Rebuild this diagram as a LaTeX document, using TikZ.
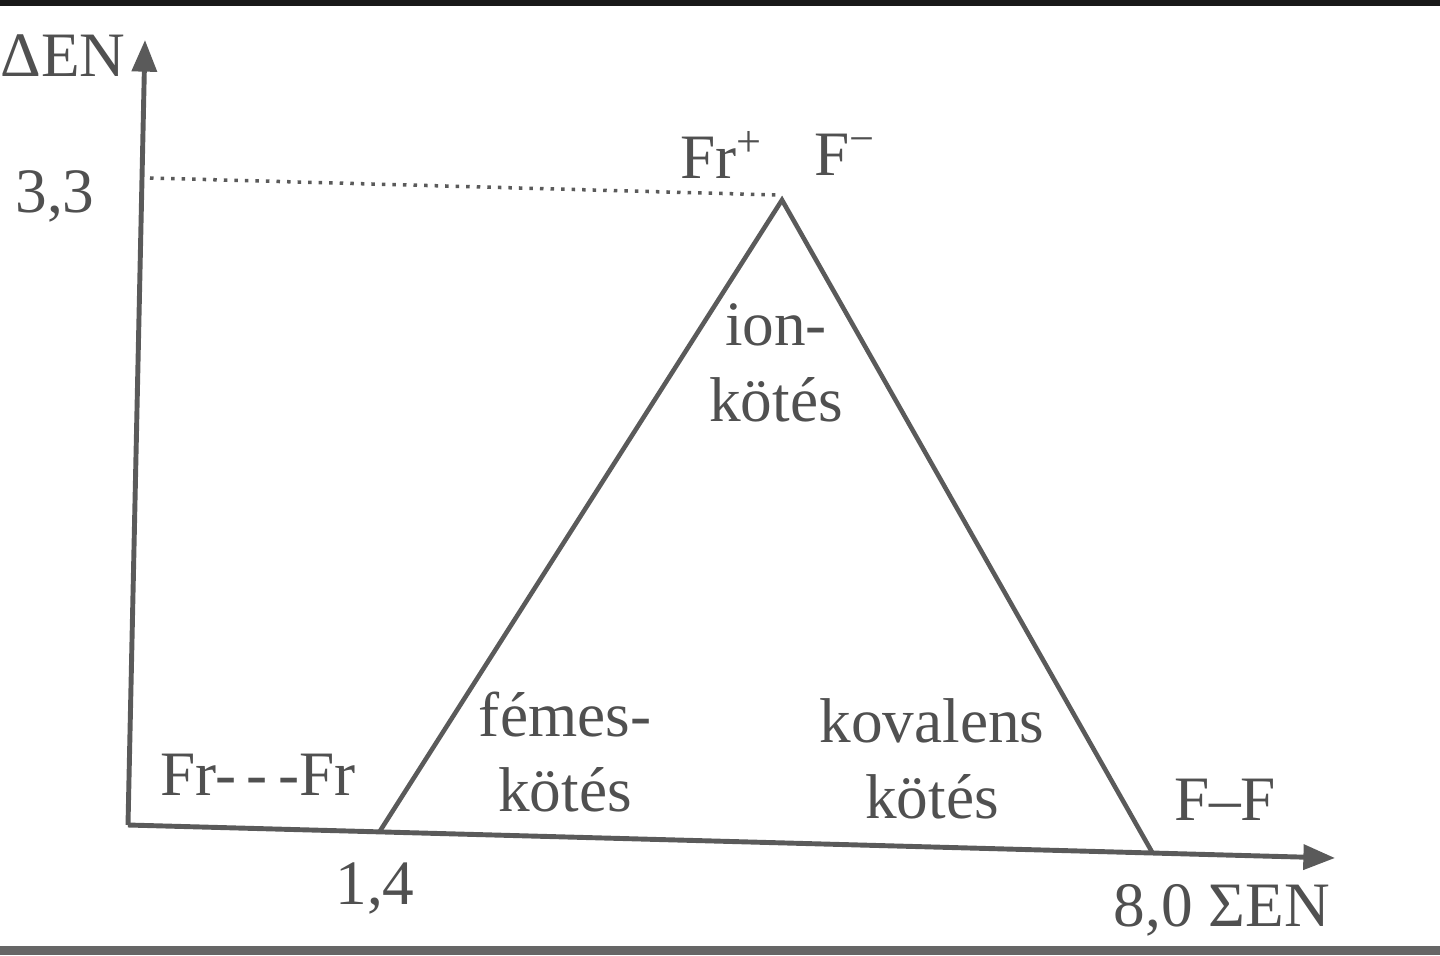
\documentclass[tikz,border=0pt]{standalone}
\usepackage{fontspec}
\setmainfont{Liberation Serif}
\usetikzlibrary{arrows.meta}
\definecolor{ink}{HTML}{505050}
\definecolor{lineink}{HTML}{5A5A5A}
\tikzset{
  lbl/.style={text=ink, font=\fontsize{18}{21.5}\selectfont, inner sep=0pt, align=center},
  axis/.style={draw=lineink, line width=1.4pt, -{Triangle[length=9pt,width=7pt]}},
  tri/.style={draw=lineink, line width=1.3pt, line join=miter},
  guide/.style={draw=lineink, line width=1pt, dotted}
}
\begin{document}
\begin{tikzpicture}
\useasboundingbox (0,0) rectangle (14.4,-9.55);
% scan borders
\fill[black!90] (0,0) rectangle (14.4,-0.06);
\fill[black!60] (0,-9.46) rectangle (14.4,-9.55);
% key points
\coordinate (O) at (1.28,-8.25);
\coordinate (Ytop) at (1.45,-0.40);
\coordinate (Xend) at (13.35,-8.58);
\coordinate (A) at (3.80,-8.31);
\coordinate (B) at (7.82,-2.00);
\coordinate (C) at (11.52,-8.52);
\coordinate (D0) at (1.50,-1.78);
\coordinate (D1) at (7.78,-1.95);
% axes
\draw[axis] (O) -- (Ytop);
\draw[axis] (O) -- (Xend);
% dotted guide
\draw[guide] (D0) -- (D1);
% triangle
\draw[tri] (A) -- (B) -- (C);
% labels
\node[lbl] (yl) at (0.63,-0.56) {ΔEN};
\node[lbl] (v33) at (0.55,-1.96) {3,3};
\node[lbl] (frp) at (7.22,-1.55) {Fr\textsuperscript{+}};
\node[lbl] (fm) at (8.45,-1.55) {F\textsuperscript{−}};
\node[lbl] (ion) at (7.76,-3.63) {ion-\\kötés};
\node[lbl] (fem) at (5.65,-7.52) {fémes-\\kötés};
\node[lbl] (kov) at (9.32,-7.59) {kovalens\\kötés};
\node[lbl] (frfr) at (2.58,-7.75) {Fr-\,-\,-Fr};
\node[lbl] (ff) at (12.25,-8.00) {F–F};
\node[lbl] (v14) at (3.75,-8.88) {1,4};
\node[lbl] (v80) at (12.22,-9.10) {8,0 ΣEN};
\end{tikzpicture}
\end{document}
